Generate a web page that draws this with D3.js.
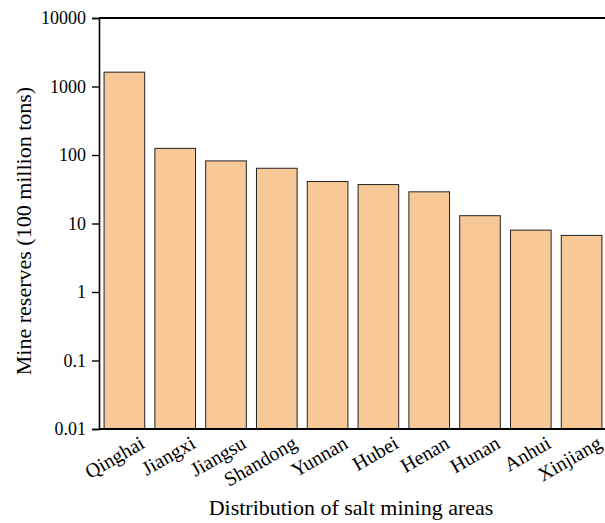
<!DOCTYPE html>
<html><head><meta charset="utf-8">
<script src="https://cdn.jsdelivr.net/npm/d3@7"></script>
<style>body{margin:0;background:#fff}svg{display:block}</style>
</head><body><svg id="c" width="605" height="523"></svg>
<script>
const categories = ["Qinghai","Jiangxi","Jiangsu","Shandong","Yunnan","Hubei","Henan","Hunan","Anhui","Xinjiang"];
const reserves = [1620, 125, 82, 64, 41, 37, 29, 13, 8, 6.7];
const yTicks = [0.01, 0.1, 1, 10, 100, 1000, 10000];
const yTickLabels = ["0.01","0.1","1","10","100","1000","10000"];

const FONT = '"Liberation Serif"';
const svg = d3.select("#c");
const L = 99, R = 607, T = 18, B = 429;
const x = d3.scaleBand().domain(categories).range([L, R]).paddingInner(0.2).paddingOuter(0.1);
const y = d3.scaleLog().domain([0.01, 10000]).range([B, T]);

svg.append("g").selectAll("rect").data(categories).join("rect")
  .attr("x", d => x(d)).attr("width", x.bandwidth())
  .attr("y", (d,i) => y(reserves[i])).attr("height", (d,i) => B - y(reserves[i]))
  .attr("fill", "#F9C897").attr("stroke", "#222").attr("stroke-width", 1);

const yAxis = d3.axisLeft(y).tickValues(yTicks).tickFormat((d,i) => yTickLabels[i]).tickSize(7).tickPadding(6);
const gy = svg.append("g").attr("transform", `translate(${L},0)`).call(yAxis).attr("font-family", null);
gy.select(".domain").attr("stroke-width", 1.6);
gy.selectAll(".tick line").attr("stroke-width", 1.4);
gy.selectAll("text").style("font-family", FONT).style("font-size", "18px").attr("fill", "#000");

svg.append("line").attr("x1", L).attr("x2", 605).attr("y1", T).attr("y2", T).attr("stroke", "#000").attr("stroke-width", 2);
svg.append("line").attr("x1", L).attr("x2", 605).attr("y1", B).attr("y2", B).attr("stroke", "#000").attr("stroke-width", 2);

const xAxis = d3.axisBottom(x).tickSize(0).tickPadding(0);
const gx = svg.append("g").attr("transform", `translate(0,${B})`).call(xAxis).attr("font-family", null);
gx.select(".domain").remove();
gx.selectAll("text")
  .style("font-family", FONT).style("font-size", "20px").attr("fill", "#000")
  .attr("text-anchor", "end")
  .attr("transform", "translate(18,12) rotate(-30)")
  .attr("dy", "0.35em").attr("y", 0).attr("x", 0);

svg.append("text").attr("x", 351).attr("y", 515).attr("text-anchor", "middle")
  .style("font-family", FONT).style("font-size", "22px").text("Distribution of salt mining areas");
svg.append("text").attr("transform", `translate(31,231) rotate(-90)`).attr("text-anchor", "middle")
  .style("font-family", FONT).style("font-size", "22px").text("Mine reserves (100 million tons)");
</script></body></html>
